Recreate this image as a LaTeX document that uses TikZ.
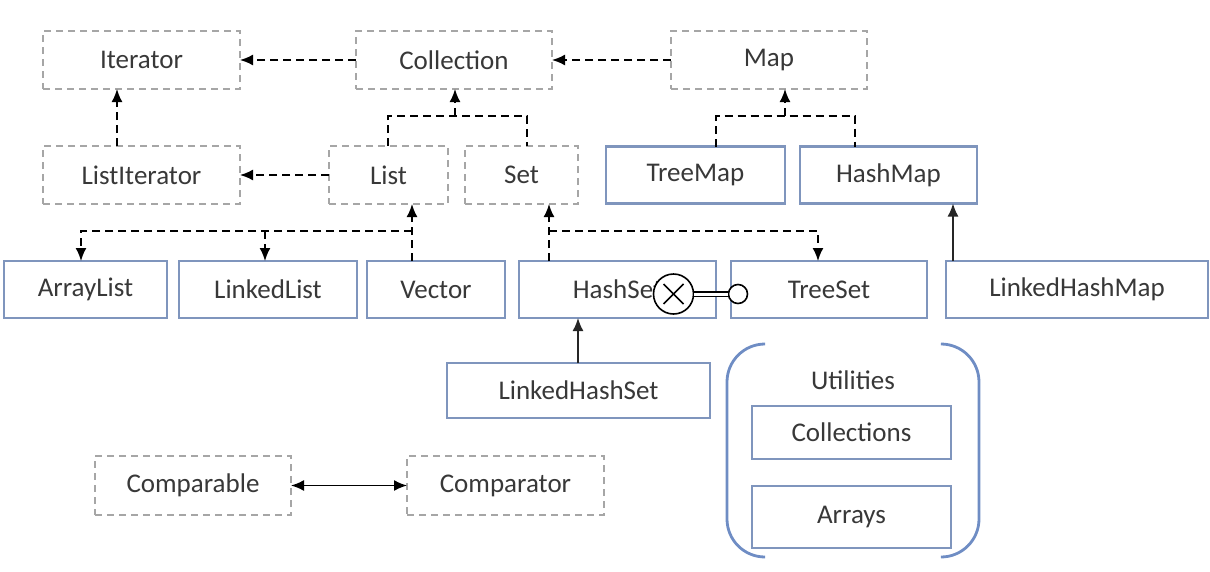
\documentclass[tikz,border=0pt]{standalone}
\usepackage{fontspec}
\setmainfont{Carlito}
\usepackage{tikz}
\usetikzlibrary{arrows.meta,positioning}
\definecolor{ifacegray}{HTML}{A6A6A6}
\definecolor{implblue}{HTML}{7F95BD}
\definecolor{utilblue}{HTML}{6F8DC4}
\definecolor{labelink}{HTML}{383838}

\begin{document}
\begin{tikzpicture}[
  x=1pt, y=-1pt,
  font=\fontsize{27}{30}\selectfont, text=labelink,
  iface/.style={draw=ifacegray, dashed, dash pattern=on 7pt off 5pt, line width=1.1pt,
    minimum height=58pt, inner sep=0pt, outer sep=0pt},
  impl/.style={draw=implblue, line width=2.6pt, minimum height=57pt, inner sep=0pt, outer sep=0pt},
  util/.style={draw=implblue, line width=2.6pt, minimum width=199pt, inner sep=0pt, outer sep=0pt},
  dep/.style={-{Latex[length=13pt,width=11pt]}, draw=black, line width=1.8pt,
    dash pattern=on 8pt off 5pt},
  inherit/.style={-{Latex[length=13pt,width=11pt]}, draw=black!85, line width=1.6pt},
  both/.style={{Latex[length=13pt,width=11pt]}-{Latex[length=13pt,width=11pt]}, draw=black,
    line width=1.6pt}
]
\useasboundingbox (0,0) rectangle (1210,571);

% interfaces
\node[iface, minimum width=197pt] (iter) at (141.5,60) {Iterator};
\node[iface, minimum width=196pt, right=116pt of iter] (coll) {Collection};
\node[iface, minimum width=196pt, right=119pt of coll] (map) {Map};
\node[iface, minimum width=197pt, minimum height=58pt, below=57pt of iter] (liter) {ListIterator};
\node[iface, minimum width=119pt, minimum height=58pt] (list) at (388.5,175) {List};
\node[iface, minimum width=113pt, minimum height=58pt, right=17pt of list] (set) {Set};
\node[impl, minimum width=179pt, right=28pt of set] (tmap) {TreeMap};
\node[impl, minimum width=177pt, right=15pt of tmap] (hmap) {HashMap};

% implementations
\node[impl, minimum width=163pt] (alist) at (85.5,289.5) {ArrayList};
\node[impl, minimum width=178pt, right=12pt of alist] (llist) {LinkedList};
\node[impl, minimum width=138pt, right=10pt of llist] (vec) {Vector};
\node[impl, minimum width=197pt, right=14pt of vec] (hset) {HashSet};
\node[impl, minimum width=196pt, right=15pt of hset] (tset) {TreeSet};
\node[impl, minimum width=262pt, right=19pt of tset] (lhmap) {LinkedHashMap};
\node[impl, minimum width=263pt, minimum height=55pt] (lhset) at (578.5,390.5) {LinkedHashSet};

% utilities
\node (utils) at (853,380) {Utilities};
\node[util, minimum height=53pt] (colls) at (851.5,432.5) {Collections};
\node[util, minimum height=62pt, below=27pt of colls] (arrs) {Arrays};
\draw[utilblue, line width=2.8pt, rounded corners=38pt] (763,344) -- (727,344) -- (727,557) -- (763,557);
\draw[utilblue, line width=2.8pt, rounded corners=38pt] (943,344) -- (979,344) -- (979,557) -- (943,557);

% comparison
\node[iface, minimum width=196pt, minimum height=59pt] (cmpable) at (193,485.5) {Comparable};
\node[iface, minimum width=197pt, minimum height=59pt, right=116pt of cmpable] (cmptor) {Comparator};

% connectors
\draw[dep] (coll) -- (iter);
\draw[dep] (map) -- (coll);
\draw[dep] (liter.north -| 117,0) -- (iter.south -| 117,0);
\draw[dep] (list) -- (liter);
\draw[dep, -] (list.north -| 388,0) |- (527,116) -- (set.north -| 527,0);
\draw[dep] (455,116) -- (coll.south -| 455,0);
\draw[dep, -] (tmap.north -| 716,0) |- (855,116) -- (hmap.north -| 855,0);
\draw[dep] (785,116) -- (map.south -| 785,0);
\draw[dep] (vec.north -| 412,0) -- (list.south -| 412,0);
\draw[dep] (412,231) -| (alist.north -| 81,0);
\draw[dep] (265,231) -- (llist.north -| 265,0);
\draw[dep] (hset.north -| 549,0) -- (set.south -| 549,0);
\draw[dep] (549,231) -| (tset.north -| 818,0);
\draw[inherit] (lhmap.north -| 953,0) -- (hmap.south -| 953,0);
\draw[inherit] (lhset.north -| 578,0) -- (hset.south -| 578,0);
\draw[both] (cmpable) -- (cmptor);

% exclusion mark between HashSet and TreeSet
\node[circle, draw=black, fill=white, line width=1.6pt, minimum size=40pt, inner sep=0pt] (xmark) at (673.5,294) {};
\node[circle, draw=black, fill=white, line width=1.6pt, minimum size=19pt, inner sep=0pt] (omark) at (738,294) {};
\draw[black, line width=1.5pt] ([shift={(-10,-10)}]xmark.center) -- ([shift={(10,10)}]xmark.center);
\draw[black, line width=1.5pt] ([shift={(-10,10)}]xmark.center) -- ([shift={(10,-10)}]xmark.center);
\draw[black, line width=1.2pt, double=white, double distance=3pt] (xmark) -- (omark);
\end{tikzpicture}
\end{document}
